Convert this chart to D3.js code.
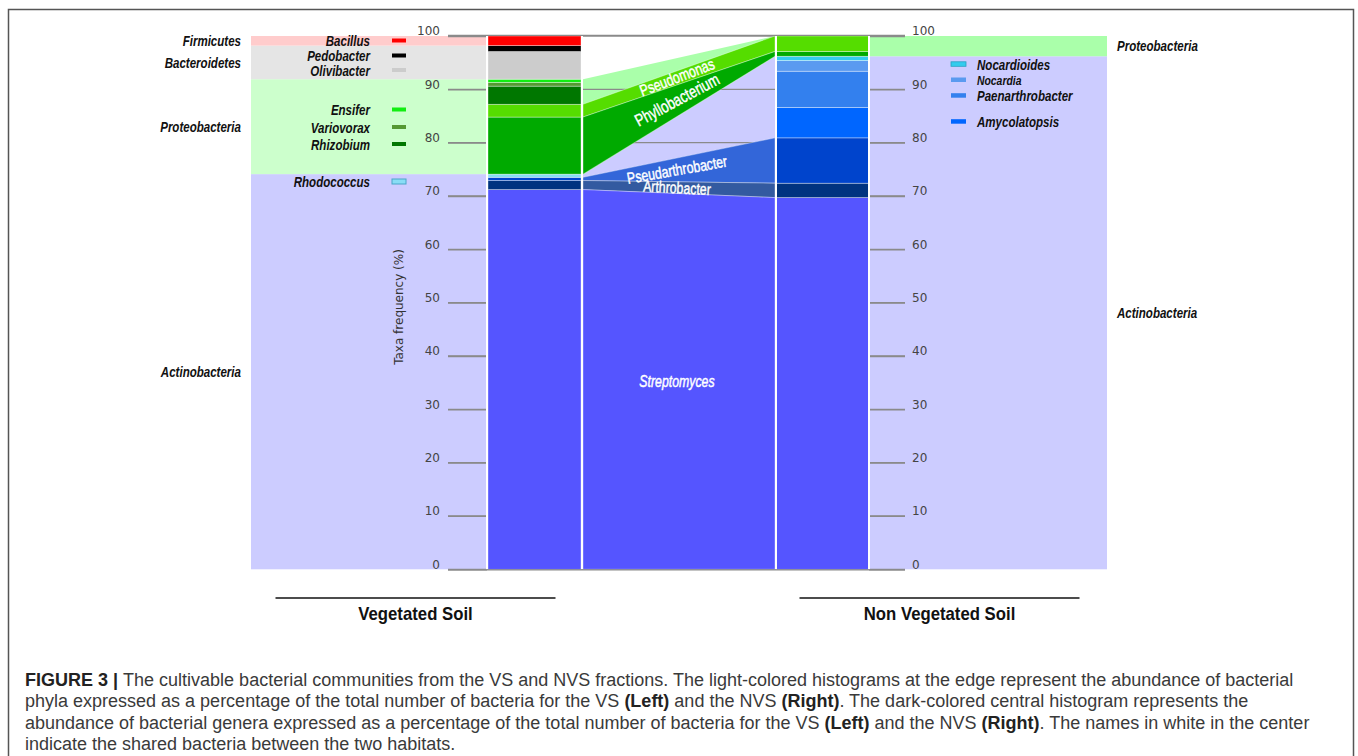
<!DOCTYPE html>
<html lang="en">

<head>
	<meta charset="UTF-8">
	<script type="text/javascript" src="https://cdnjs.cloudflare.com/ajax/libs/d3/7.8.5/d3.min.js"></script>
	<title>Figure 3</title>
	<style>
		body { margin: 0; background: #fff; }
		svg { display: block; }
	</style>
</head>

<body>
	<div id="draw-here"></div>
	<script>
		/*Genera, stacked from bottom (0%) to top (100%)*/
		var genera = ["Streptomyces", "Arthrobacter", "Pseudarthrobacter", "Rhodococcus", "Amycolatopsis",
			"Paenarthrobacter", "Nocardia", "Nocardioides", "Phyllobacterium", "Pseudomonas",
			"Rhizobium", "Variovorax", "Ensifer", "Olivibacter", "Pedobacter", "Bacillus"];
		/*% of genera in Vegetated Soil (VS) and Non Vegetated Soil (NVS)*/
		var vsValues = [71.2, 1.7, 0.6, 0.6, 0, 0, 0, 0, 10.7, 2.4, 3.4, 0.7, 0.6, 5.2, 1.1, 1.8];
		var nvsValues = [69.7, 2.7, 8.5, 0, 5.7, 6.8, 2.0, 0.8, 0.9, 2.9, 0, 0, 0, 0, 0, 0];
		var genusColors = ["#5555ff", "#003380", "#0044cc", "#88ddf5", "#0066ff",
			"#3380ee", "#5a9af0", "#33ccee", "#00aa00", "#55dd00",
			"#007700", "#559933", "#11ee11", "#cccccc", "#000000", "#ff0000"];

		/*Phyla, bottom to top*/
		var phyla = ["Actinobacteria", "Proteobacteria", "Bacteroidetes", "Firmicutes"];
		var vsPhyla = [74.1, 17.8, 6.3, 1.8];
		var nvsPhyla = [96.2, 3.8, 0, 0];
		var vsPhylaColors = ["#ccccff", "#ccffcc", "#e5e5e5", "#ffcccc"];
		var nvsPhylaColors = ["#ccccff", "#aaffaa", "#e5e5e5", "#ffcccc"];

		/*Genera shared by both soils (white names in the centre)*/
		var shared = ["Pseudomonas", "Phyllobacterium", "Pseudarthrobacter", "Arthrobacter", "Streptomyces"];
		var sharedColors = ["#55dd00", "#00aa00", "#3366d9", "#335aa0", "#5555ff"];
		var sharedAngles = [-21, -28, -10, 3, 0];

		var legendLeft = ["Bacillus", "Pedobacter", "Olivibacter", "Ensifer", "Variovorax", "Rhizobium", "Rhodococcus"];
		var legendRight = ["Nocardioides", "Nocardia", "Paenarthrobacter", "Amycolatopsis"];
		var yTicks = [0, 10, 20, 30, 40, 50, 60, 70, 80, 90, 100];

		var sites = ["Vegetated Soil", "Non Vegetated Soil"];
		var captionLines = [
			[["FIGURE 3 | ", true], ["The cultivable bacterial communities from the VS and NVS fractions. The light-colored histograms at the edge represent the abundance of bacterial", false]],
			[["phyla expressed as a percentage of the total number of bacteria for the VS ", false], ["(Left)", true], [" and the NVS ", false], ["(Right)", true], [". The dark-colored central histogram represents the", false]],
			[["abundance of bacterial genera expressed as a percentage of the total number of bacteria for the VS ", false], ["(Left)", true], [" and the NVS ", false], ["(Right)", true], [". The names in white in the center", false]],
			[["indicate the shared bacteria between the two habitats.", false]]
		];

		/*Size and layout*/
		var w = 1358;
		var h = 756;
		var barW = 93;
		var leftBg = [251, 486];
		var rightBg = [870, 1107];
		var midX = [583, 775];
		var squeeze = 0.77; /*narrow look of the labels*/

		var y = d3.scaleLinear().domain([0, 100]).range([569.3, 36]);
		var x = d3.scaleOrdinal().domain(["VS", "NVS"]).range([488, 776]);

		var svg = d3.select("#draw-here")
			.append("svg")
			.attr("width", w)
			.attr("height", h)
			.style("background", "#fff");

		/*build stacked rows*/
		var rows = [{ site: "VS" }, { site: "NVS" }];
		genera.forEach(function(g, i) {
			rows[0][g] = vsValues[i];
			rows[1][g] = nvsValues[i];
		});
		var genusStack = d3.stack().keys(genera)(rows);

		var phyRows = [{ site: "VS" }, { site: "NVS" }];
		phyla.forEach(function(p, i) {
			phyRows[0][p] = vsPhyla[i];
			phyRows[1][p] = nvsPhyla[i];
		});
		var phylaStack = d3.stack().keys(phyla)(phyRows);

		/*bold italic narrow label*/
		function label(parent, px, py, txt, anchor, size) {
			return parent.append("text")
				.attr("transform", "translate(" + px + "," + py + ") scale(" + squeeze + ",1)")
				.attr("dy", "0.35em")
				.attr("text-anchor", anchor)
				.attr("fill", "#111")
				.style("font-family", "'Liberation Sans', Arial, sans-serif")
				.style("font-weight", "bold")
				.style("font-style", "italic")
				.style("font-size", size + "px")
				.text(txt);
		}

		/*phylum backgrounds*/
		var bgLayer = svg.append("g");
		phylaStack.forEach(function(s, i) {
			if (vsPhyla[i] > 0) {
				bgLayer.append("rect")
					.attr("x", leftBg[0]).attr("width", leftBg[1] - leftBg[0])
					.attr("y", y(s[0][1])).attr("height", y(s[0][0]) - y(s[0][1]))
					.attr("fill", vsPhylaColors[i]);
			}
			if (nvsPhyla[i] > 0) {
				bgLayer.append("rect")
					.attr("x", rightBg[0]).attr("width", rightBg[1] - rightBg[0])
					.attr("y", y(s[1][1])).attr("height", y(s[1][0]) - y(s[1][1]))
					.attr("fill", nvsPhylaColors[i]);
			}
		});

		/*connecting area between the two histograms*/
		var area = d3.area()
			.x(function(d) { return d.x; })
			.y0(function(d) { return y(d.lo); })
			.y1(function(d) { return y(d.hi); });

		function link(s) {
			return [
				{ x: midX[0], lo: s[0][0], hi: s[0][1] },
				{ x: midX[1], lo: s[1][0], hi: s[1][1] }
			];
		}

		phylaStack.forEach(function(s, i) {
			if (vsPhyla[i] > 0 && nvsPhyla[i] > 0) {
				svg.append("path")
					.attr("d", area(link(s)))
					.attr("fill", nvsPhylaColors[i]);
			}
		});

		/*grid lines in the middle + the two axes*/
		svg.append("g").selectAll("line")
			.data(yTicks)
			.enter()
			.append("line")
			.attr("x1", 448).attr("x2", 905)
			.attr("y1", function(d) { return y(d); })
			.attr("y2", function(d) { return y(d); })
			.attr("stroke", "#8a8a8a")
			.attr("stroke-width", 1.3);

		var leftAxis = svg.append("g")
			.attr("transform", "translate(487,0)")
			.call(d3.axisLeft(y).tickValues(yTicks).tickSize(39).tickPadding(8));
		var rightAxis = svg.append("g")
			.attr("transform", "translate(869,0)")
			.call(d3.axisRight(y).tickValues(yTicks).tickSize(36).tickPadding(7));
		[leftAxis, rightAxis].forEach(function(a) {
			a.select(".domain").remove();
			a.selectAll("line").attr("stroke", "#8a8a8a").attr("stroke-width", 1.3);
			a.selectAll("text")
				.attr("y", -5)
				.attr("fill", "#444")
				.style("font-family", "'DejaVu Sans', sans-serif")
				.style("font-size", "12px");
		});

		/*shared genus bands*/
		var bandLayer = svg.append("g");
		shared.forEach(function(g, i) {
			var s = genusStack[genera.indexOf(g)];
			bandLayer.append("path")
				.attr("d", area(link(s)))
				.attr("fill", sharedColors[i])
				.attr("stroke", "#fff")
				.attr("stroke-opacity", 0.45)
				.attr("stroke-width", 0.8);
		});

		/*the genus histograms*/
		var barLayer = svg.append("g");
		genusStack.forEach(function(s, i) {
			barLayer.selectAll(null)
				.data(s.filter(function(d) { return d[1] - d[0] > 0; }))
				.enter()
				.append("rect")
				.attr("x", function(d) { return x(d.data.site); })
				.attr("width", barW)
				.attr("y", function(d) { return y(d[1]); })
				.attr("height", function(d) { return y(d[0]) - y(d[1]); })
				.attr("fill", genusColors[i])
				.attr("stroke", "#fff")
				.attr("stroke-opacity", 0.5)
				.attr("stroke-width", 0.7);
		});

		/*white separators at bar edges*/
		svg.append("g").selectAll("line")
			.data([487, 582, 776, 869])
			.enter()
			.append("line")
			.attr("x1", function(d) { return d; })
			.attr("x2", function(d) { return d; })
			.attr("y1", y(100)).attr("y2", y(0))
			.attr("stroke", "#fff")
			.attr("stroke-width", 2);

		/*top and bottom lines over everything*/
		svg.append("g").selectAll("line")
			.data([0, 100])
			.enter()
			.append("line")
			.attr("x1", 448).attr("x2", 905)
			.attr("y1", function(d) { return y(d) + (d === 0 ? 0.5 : -0.6); })
			.attr("y2", function(d) { return y(d) + (d === 0 ? 0.5 : -0.6); })
			.attr("stroke", "#8a8a8a")
			.attr("stroke-width", 1.3);

		/*phylum names*/
		phylaStack.forEach(function(s, i) {
			if (vsPhyla[i] > 0) label(svg, 241, y((s[0][0] + s[0][1]) / 2), phyla[i], "end", 15);
			if (nvsPhyla[i] > 0) label(svg, 1117, y((s[1][0] + s[1][1]) / 2), phyla[i], "start", 15);
		});

		/*legends*/
		var legY = [41, 56, 70.5, 110, 127.5, 144.5, 181.5];
		var legL = svg.append("g");
		legendLeft.forEach(function(d, i) {
			label(legL, 370, legY[i], d, "end", 15);
			legL.append("rect")
				.attr("x", 392).attr("y", legY[i] - 2.5)
				.attr("width", 14).attr("height", d === "Rhodococcus" ? 5 : 4)
				.attr("fill", genusColors[genera.indexOf(d)])
				.attr("stroke", d === "Rhodococcus" ? "#4aa6c8" : "none")
				.attr("stroke-width", 1);
		});

		var legYR = [64.3, 80, 95.7, 121.7];
		var legR = svg.append("g");
		legendRight.forEach(function(d, i) {
			legR.append("rect")
				.attr("x", 951).attr("y", legYR[i] - 2.5)
				.attr("width", 15).attr("height", 4.5)
				.attr("fill", genusColors[genera.indexOf(d)])
				.attr("stroke", d === "Nocardioides" ? "#2a9fc0" : "none")
				.attr("stroke-width", 0.8);
			label(legR, 977, legYR[i], d, "start", d === "Nocardia" ? 13.5 : 15);
		});

		/*white names of shared genera*/
		shared.forEach(function(g, i) {
			var s = genusStack[genera.indexOf(g)];
			var cy = y((s[0][0] + s[0][1] + s[1][0] + s[1][1]) / 4);
			svg.append("text")
				.attr("transform", "translate(677," + cy + ") rotate(" + sharedAngles[i] + ") scale(" + squeeze + ",1)")
				.attr("text-anchor", "middle")
				.attr("dy", "0.35em")
				.attr("fill", "#fff")
				.attr("stroke", "#fff")
				.attr("stroke-width", 0.45)
				.style("font-family", "'Liberation Sans', Arial, sans-serif")
				.style("font-size", g === "Phyllobacterium" ? "17px" : "16px")
				.style("font-style", g === "Streptomyces" ? "italic" : "normal")
				.text(g);
		});

		/*axis title*/
		svg.append("text")
			.attr("transform", "translate(403,307) rotate(-90)")
			.attr("text-anchor", "middle")
			.attr("fill", "#333")
			.style("font-family", "'DejaVu Sans', sans-serif")
			.style("font-size", "12px")
			.text("Taxa frequency (%)");

		/*site names under the chart*/
		var siteX = [415.5, 939.5];
		sites.forEach(function(name, i) {
			svg.append("line")
				.attr("x1", siteX[i] - 140).attr("x2", siteX[i] + 140)
				.attr("y1", 598).attr("y2", 598)
				.attr("stroke", "#111").attr("stroke-width", 1.5);
			svg.append("text")
				.attr("transform", "translate(" + siteX[i] + ",620) scale(0.93,1)")
				.attr("text-anchor", "middle")
				.attr("fill", "#111")
				.style("font-family", "'Liberation Sans', sans-serif")
				.style("font-weight", "bold")
				.style("font-size", "18px")
				.text(name);
		});

		/*frame of the figure*/
		svg.append("path")
			.attr("d", "M8.5," + h + "V9.5H1353.5V" + h)
			.attr("fill", "none")
			.attr("stroke", "#555")
			.attr("stroke-width", 1.5);

		/*caption*/
		var caption = svg.append("g")
			.style("font-family", "'Liberation Sans', Arial, sans-serif")
			.style("font-size", "18px")
			.attr("fill", "#3a3a3a");
		captionLines.forEach(function(line, i) {
			var t = caption.append("text")
				.attr("x", 25)
				.attr("y", 686 + i * 21.3);
			line.forEach(function(part) {
				t.append("tspan")
					.style("font-weight", part[1] ? "bold" : "normal")
					.attr("fill", part[1] ? "#222" : "#3a3a3a")
					.text(part[0]);
			});
		});
	</script>
</body>

</html>
